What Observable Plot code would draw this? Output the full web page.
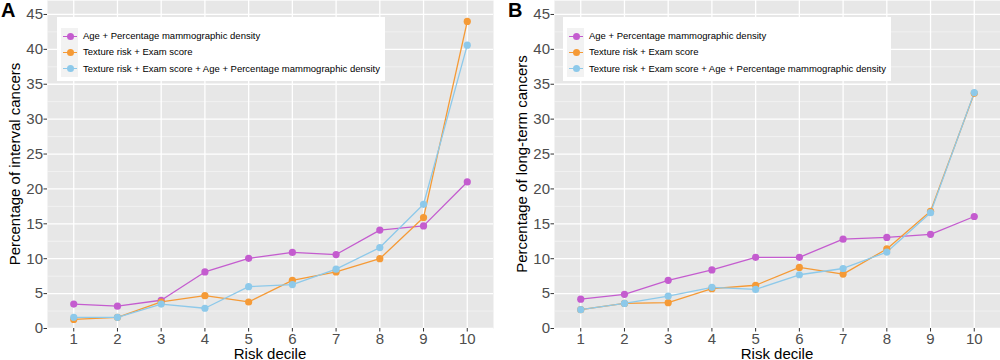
<!DOCTYPE html>
<html><head><meta charset="utf-8">
<script src="https://cdn.jsdelivr.net/npm/d3@7"></script>
<script src="https://cdn.jsdelivr.net/npm/@observablehq/plot@0.6"></script>
<style>
body{margin:0;background:#fff;font-family:"Liberation Sans",Arial,sans-serif;}
#wrap{display:flex;width:1000px;height:360px;overflow:hidden;position:relative}
.panel{position:relative;width:500px;height:360px}
.panel svg{display:block}
.letter{position:absolute;top:0px;font-weight:bold;font-size:20px;color:#000;line-height:20px}
.ytitle{position:absolute;font-size:15px;color:#000;white-space:nowrap;transform-origin:center center;line-height:16px}
.xtitle{position:absolute;font-size:15px;color:#000;white-space:nowrap;line-height:14px;top:347px}
.legend{position:absolute;top:17px;height:64px;background:#fff}
.keys{position:absolute;left:4px;top:11px;width:17px;height:49px;background:#f2f2f2}
.row{position:absolute;left:0;height:16px;font-size:9.5px;line-height:16px;white-space:nowrap;color:#000}
.row .ln{position:absolute;left:6px;top:7.5px;width:14px;height:1.3px}
.row .pt{position:absolute;left:9.5px;top:4.5px;width:7px;height:7px;border-radius:50%}
.row .tx{position:absolute;left:26px;top:0}
</style>
</head><body>
<div id="wrap">
  <div class="panel" id="pA"></div>
  <div class="panel" id="pB"></div>
</div>
<script>
const deciles = [1, 2, 3, 4, 5, 6, 7, 8, 9, 10];
const seriesNames = [
  "Age + Percentage mammographic density",
  "Texture risk + Exam score",
  "Texture risk + Exam score + Age + Percentage mammographic density"
];
const seriesColors = ["#c45ccf", "#f59a36", "#8dc9ea"];
const yTicks = [0, 5, 10, 15, 20, 25, 30, 35, 40, 45];
const yMinor = [2.5, 7.5, 12.5, 17.5, 22.5, 27.5, 32.5, 37.5, 42.5, 47];

// Panel A: interval cancers
const intervalAge = [3.5, 3.2, 4.05, 8.1, 10.05, 10.9, 10.6, 14.1, 14.7, 21.0];
const intervalTexture = [1.3, 1.6, 3.8, 4.7, 3.8, 6.9, 8.1, 10.0, 15.9, 44.0];
const intervalCombined = [1.6, 1.6, 3.5, 2.9, 6.0, 6.3, 8.5, 11.6, 17.8, 40.6];

// Panel B: long-term cancers
const longAge = [4.2, 4.9, 6.9, 8.4, 10.2, 10.2, 12.8, 13.05, 13.5, 16.05];
const longTexture = [2.7, 3.6, 3.7, 5.7, 6.2, 8.75, 7.8, 11.4, 16.8, 33.7];
const longCombined = [2.7, 3.6, 4.65, 5.9, 5.6, 7.7, 8.6, 10.95, 16.6, 33.8];

function rows(arrs) {
  const out = [];
  arrs.forEach((vals, si) => vals.forEach((v, i) => out.push({decile: deciles[i], value: v, series: seriesNames[si]})));
  return out;
}

function makePlot(data, ml, mr) {
  return Plot.plot({
    width: 500, height: 360,
    marginTop: 0, marginBottom: 32, marginLeft: ml, marginRight: mr,
    x: {domain: [0.4, 10.6]},
    y: {domain: [0, 47]},
    color: {domain: seriesNames, range: seriesColors},
    style: {fontFamily: '"Liberation Sans", Arial, sans-serif', background: "transparent", overflow: "visible"},
    marks: [
      Plot.frame({fill: "#e7e7e7", stroke: null}),
      Plot.ruleY(yMinor, {stroke: "#f6f6f6", strokeWidth: 0.7}),
      Plot.ruleY(yTicks, {stroke: "#ffffff", strokeWidth: 1.3}),
      Plot.ruleX(deciles, {stroke: "#ffffff", strokeWidth: 1.3}),
      Plot.line(data, {x: "decile", y: "value", z: "series", stroke: "series", strokeWidth: 1.3}),
      Plot.dot(data, {x: "decile", y: "value", fill: "series", r: 3.6, stroke: null}),
      Plot.axisX({ticks: deciles, tickFormat: d => String(d), tickSize: 3.5, tickPadding: 1.5, fontSize: 15, stroke: "#333333", fill: "#4d4d4d", label: null}),
      Plot.axisY({ticks: yTicks, tickFormat: d => String(d), tickSize: 3.5, tickPadding: 1, fontSize: 15, stroke: "#333333", fill: "#4d4d4d", label: null})
    ]
  });
}

function addOverlay(el, letter, ytitle, ytitleX, xtitleX, legendLeft) {
  const L = document.createElement("div");
  L.className = "letter"; L.textContent = letter; L.style.left = (letter === "A" ? 1 : 8) + "px";
  el.appendChild(L);
  const yt = document.createElement("div");
  yt.className = "ytitle"; yt.textContent = ytitle;
  el.appendChild(yt);
  const w = yt.getBoundingClientRect().width;
  yt.style.left = (ytitleX - w / 2) + "px";
  yt.style.top = (164 - 8) + "px";
  yt.style.transform = "rotate(-90deg)";
  const xt = document.createElement("div");
  xt.className = "xtitle"; xt.textContent = "Risk decile";
  el.appendChild(xt);
  const xw = xt.getBoundingClientRect().width;
  xt.style.left = (xtitleX - xw / 2) + "px";
  const lg = document.createElement("div");
  lg.className = "legend"; lg.style.left = legendLeft + "px"; lg.style.width = "328px";
  const keys = document.createElement("div"); keys.className = "keys"; lg.appendChild(keys);
  seriesNames.forEach((n, i) => {
    const r = document.createElement("div"); r.className = "row"; r.style.top = (11 + i * 16.3) + "px";
    r.innerHTML = `<div class="ln" style="background:${seriesColors[i]}"></div><div class="pt" style="background:${seriesColors[i]}"></div><div class="tx">${n}</div>`;
    lg.appendChild(r);
  });
  el.appendChild(lg);
}

const pA = document.getElementById("pA");
pA.appendChild(makePlot(rows([intervalAge, intervalTexture, intervalCombined]), 47, 7));
addOverlay(pA, "A", "Percentage of interval cancers", 15, 270, 57);

const pB = document.getElementById("pB");
pB.appendChild(makePlot(rows([longAge, longTexture, longCombined]), 54, 0));
addOverlay(pB, "B", "Percentage of long-term cancers", 22, 277, 63);
</script>
</body></html>
